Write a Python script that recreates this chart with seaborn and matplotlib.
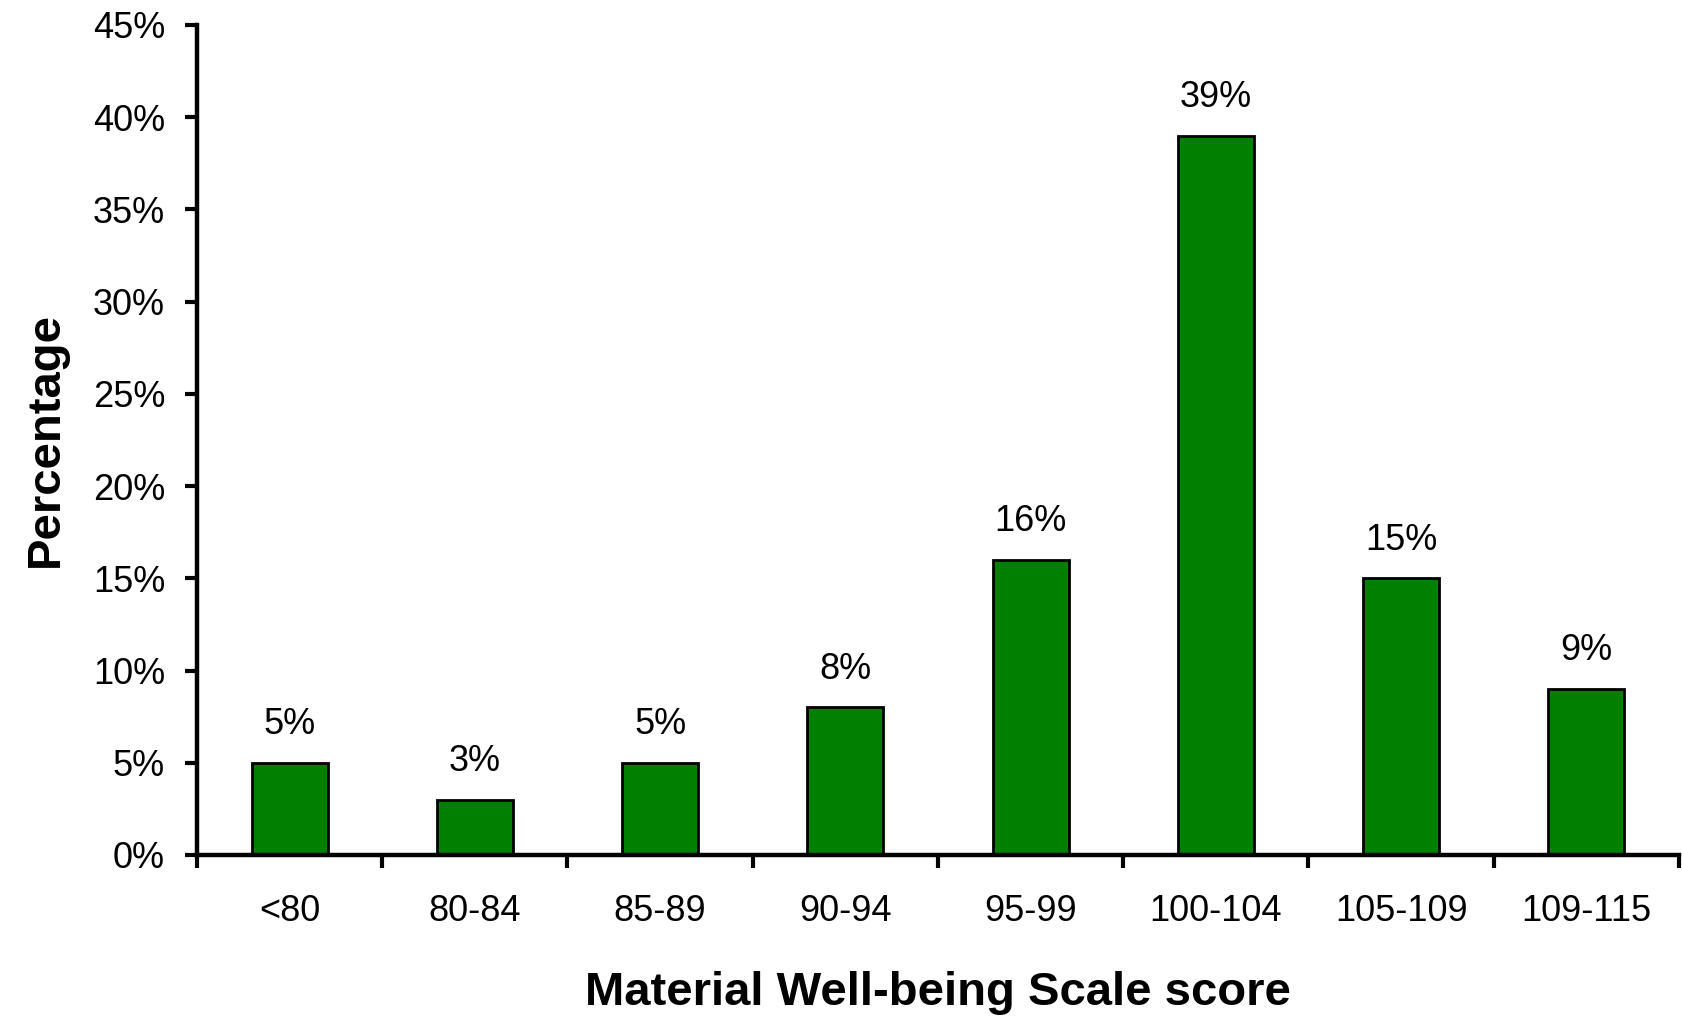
import matplotlib
matplotlib.use("Agg")
import matplotlib.pyplot as plt
import seaborn as sns
import numpy as np
import pandas as pd
from matplotlib.ticker import FixedLocator, FuncFormatter

categories = ["<80", "80-84", "85-89", "90-94", "95-99", "100-104", "105-109", "109-115"]
values = [5, 3, 5, 8, 16, 39, 15, 9]
y_ticks = [0, 5, 10, 15, 20, 25, 30, 35, 40, 45]

sns.set_theme(style="white")
plt.rcParams['font.family'] = ['Liberation Sans', 'DejaVu Sans']
plt.rcParams.update({"text.color": "black", "axes.labelcolor": "black",
                     "xtick.color": "black", "ytick.color": "black"})

df = pd.DataFrame({"cat": categories, "val": values})

fig = plt.figure(figsize=(16.82, 10.16), dpi=100)
ax = fig.add_axes([0.1171, 0.1585, 0.8811, 0.8169])

sns.barplot(data=df, x="cat", y="val", color="#007f00", saturation=1,
            width=0.41, edgecolor="black", linewidth=2, ax=ax)

for i, v in enumerate(values):
    ax.annotate(f"{v}%", (i, v), xytext=(0, 27.5), textcoords="offset points",
                ha="center", va="center", fontsize=26, color="black")

ax.set_xlim(-0.5, len(categories) - 0.5)
ax.set_ylim(0, 45)
ax.yaxis.set_major_locator(FixedLocator(y_ticks))
ax.yaxis.set_major_formatter(FuncFormatter(lambda v, p: f"{int(v)}%"))

ax.xaxis.set_major_locator(FixedLocator(np.arange(-0.5, len(categories), 1.0)))
ax.xaxis.set_major_formatter(FuncFormatter(lambda v, p: ""))
ax.xaxis.set_minor_locator(FixedLocator(np.arange(len(categories))))
ax.set_xticklabels(categories, minor=True)

ax.tick_params(axis="x", which="major", direction="out", length=9, width=3, color="black", bottom=True)
ax.tick_params(axis="x", which="minor", length=0, labelsize=26, pad=28, bottom=True)
ax.tick_params(axis="y", which="major", direction="out", length=9, width=3, color="black",
               labelsize=26, pad=14, left=True)

for s in ["top", "right"]:
    ax.spines[s].set_visible(False)
for s in ["left", "bottom"]:
    ax.spines[s].set_linewidth(3.2)
    ax.spines[s].set_color("black")

ax.set_xlabel("Material Well-being Scale score", fontsize=34, fontweight="bold", labelpad=30)
ax.set_ylabel("Percentage", fontsize=34, fontweight="bold", labelpad=18)

fig.savefig("out.png", dpi=100)
